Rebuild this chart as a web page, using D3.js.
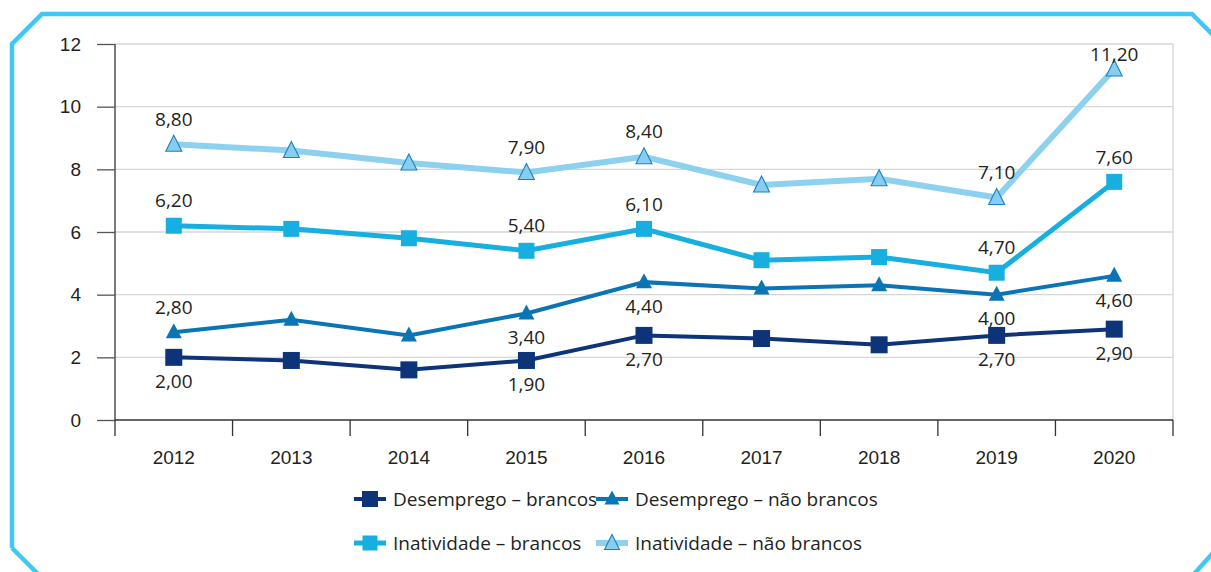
<!DOCTYPE html>
<html>
<head>
<meta charset="utf-8">
<script src="https://cdn.jsdelivr.net/npm/d3@7"></script>
<style>
  body { margin: 0; background: #fff; }
  svg { display: block; font-family: "Open Sans", "Noto Sans", sans-serif; }
</style>
</head>
<body>
<svg id="chart" width="1211" height="572"></svg>
<script>
// data
var years = ["2012", "2013", "2014", "2015", "2016", "2017", "2018", "2019", "2020"];
var desempregoBrancos = [2.0, 1.9, 1.6, 1.9, 2.7, 2.6, 2.4, 2.7, 2.9];
var desempregoNaoBrancos = [2.8, 3.2, 2.7, 3.4, 4.4, 4.2, 4.3, 4.0, 4.6];
var inatividadeBrancos = [6.2, 6.1, 5.8, 5.4, 6.1, 5.1, 5.2, 4.7, 7.6];
var inatividadeNaoBrancos = [8.8, 8.6, 8.2, 7.9, 8.4, 7.5, 7.7, 7.1, 11.2];
var yTicks = [0, 2, 4, 6, 8, 10, 12];
var labelledYears = ["2012", "2015", "2016", "2019", "2020"];

var series = [
  { name: "Desemprego – brancos", values: desempregoBrancos, color: "#0d3379", width: 4, marker: "square", size: 17, labelBelow: true },
  { name: "Desemprego – não brancos", values: desempregoNaoBrancos, color: "#0b74b4", width: 4, marker: "triangle", size: 16, labelBelow: [false, true, true, true, true] },
  { name: "Inatividade – brancos", values: inatividadeBrancos, color: "#16afe0", width: 5, marker: "square", size: 16, labelBelow: false },
  { name: "Inatividade – não brancos", values: inatividadeNaoBrancos, color: "#8dd1ef", width: 6, marker: "triangleOpen", size: 16, labelBelow: false }
];

var fs = 19, ink = "#231f20";

var svg = d3.select("#chart"),
  margin = { top: 44, right: 38, bottom: 152, left: 115 },
  width = +svg.attr("width") - margin.left - margin.right,
  height = +svg.attr("height") - margin.top - margin.bottom;

// frame
svg.append("path")
  .attr("d", "M12,548 L12,44 L42,14 L1192,14 L1213,35 M1213,553 L1194,574 M12,548 L38,574")
  .attr("fill", "none")
  .attr("stroke", "#40c8f4")
  .attr("stroke-width", 4.5);

var x = d3.scaleBand().domain(years).range([0, width]);
var y = d3.scaleLinear().domain([0, 12]).range([height, 0]);

var g = svg.append("g").attr("transform", "translate(" + margin.left + "," + margin.top + ")");

// grid
g.selectAll(".grid")
  .data(yTicks.filter(function (d) { return d > 0; }))
  .enter().append("line")
  .attr("x1", 0).attr("x2", width)
  .attr("y1", d => y(d)).attr("y2", d => y(d))
  .attr("stroke", "#d6d6d6").attr("stroke-width", 1.3);

g.append("line")
  .attr("x1", width).attr("x2", width)
  .attr("y1", 0).attr("y2", height)
  .attr("stroke", "#d6d6d6").attr("stroke-width", 1.3);

// y axis
var yAxis = g.append("g")
  .call(d3.axisLeft(y).tickValues(yTicks).tickSize(18).tickPadding(16).tickFormat(d3.format("d")));
yAxis.select(".domain").attr("stroke", "#333").attr("stroke-width", 1.3).attr("d", "M0,0V" + height);
yAxis.selectAll(".tick line").attr("stroke", "#555").attr("stroke-width", 1.3);
yAxis.selectAll(".tick text").attr("font-size", fs).attr("fill", ink).attr("font-family", "inherit");

// x axis
var xAxis = g.append("g").attr("transform", "translate(0," + height + ")")
  .call(d3.axisBottom(x).tickSize(0).tickPadding(31));
xAxis.select(".domain").attr("stroke", "#333").attr("stroke-width", 1.3).attr("d", "M0,0H" + width);
xAxis.selectAll(".tick text").attr("font-size", fs).attr("fill", ink).attr("font-family", "inherit");

var edges = years.map(d => x(d)).concat([width]);
xAxis.selectAll(".edge")
  .data(edges)
  .enter().append("line")
  .attr("x1", d => d).attr("x2", d => d)
  .attr("y1", 0).attr("y2", 16)
  .attr("stroke", "#333").attr("stroke-width", 1.3);

var cx = d => x(d) + x.bandwidth() / 2;

function drawMarker(sel, s) {
  var h = s.size / 2;
  if (s.marker === "square") {
    sel.append("rect")
      .attr("x", -h).attr("y", -h)
      .attr("width", s.size).attr("height", s.size)
      .attr("fill", s.color);
  } else if (s.marker === "triangle") {
    sel.append("path")
      .attr("d", "M0," + (-h - 1) + "L" + h + "," + (h - 2) + "L" + (-h) + "," + (h - 2) + "Z")
      .attr("fill", s.color);
  } else {
    sel.append("path")
      .attr("d", "M0," + (-h - 1) + "L" + h + "," + (h - 1) + "L" + (-h) + "," + (h - 1) + "Z")
      .attr("fill", "#86cdee")
      .attr("stroke", "#1b80c4").attr("stroke-width", 1.1);
  }
}

var line = d3.line()
  .x((d, i) => cx(years[i]))
  .y(d => y(d));

series.forEach(function (s) {
  g.append("path")
    .datum(s.values)
    .attr("fill", "none")
    .attr("stroke", s.color)
    .attr("stroke-width", s.width)
    .attr("d", line);

  s.values.forEach(function (v, i) {
    var m = g.append("g").attr("transform", "translate(" + cx(years[i]) + "," + y(v) + ")");
    drawMarker(m, s);
  });

  var k = 0;
  s.values.forEach(function (v, i) {
    if (labelledYears.indexOf(years[i]) < 0) return;
    var below = Array.isArray(s.labelBelow) ? s.labelBelow[k] : s.labelBelow;
    k++;
    var ty = below ? y(v) + 24 : Math.max(10, y(v) - 25);
    g.append("text")
      .attr("x", cx(years[i]))
      .attr("y", ty)
      .attr("dy", "0.35em")
      .attr("text-anchor", "middle")
      .attr("font-size", fs)
      .attr("fill", ink)
      .text(d3.format(".2f")(v).replace(".", ","));
  });
});

// legend
var legendPos = [[354, 499], [596, 499], [354, 543], [596, 543]];
series.forEach(function (s, i) {
  var lg = svg.append("g").attr("transform", "translate(" + legendPos[i][0] + "," + legendPos[i][1] + ")");
  lg.append("line")
    .attr("x1", 0).attr("x2", 32)
    .attr("stroke", s.color).attr("stroke-width", s.width);
  var m = lg.append("g").attr("transform", "translate(16,0)");
  drawMarker(m, Object.assign({}, s, { size: s.size - 1 }));
  lg.append("text")
    .attr("x", 39).attr("dy", "0.35em")
    .attr("font-size", fs)
    .attr("fill", ink)
    .text(s.name);
});
</script>
</body>
</html>
